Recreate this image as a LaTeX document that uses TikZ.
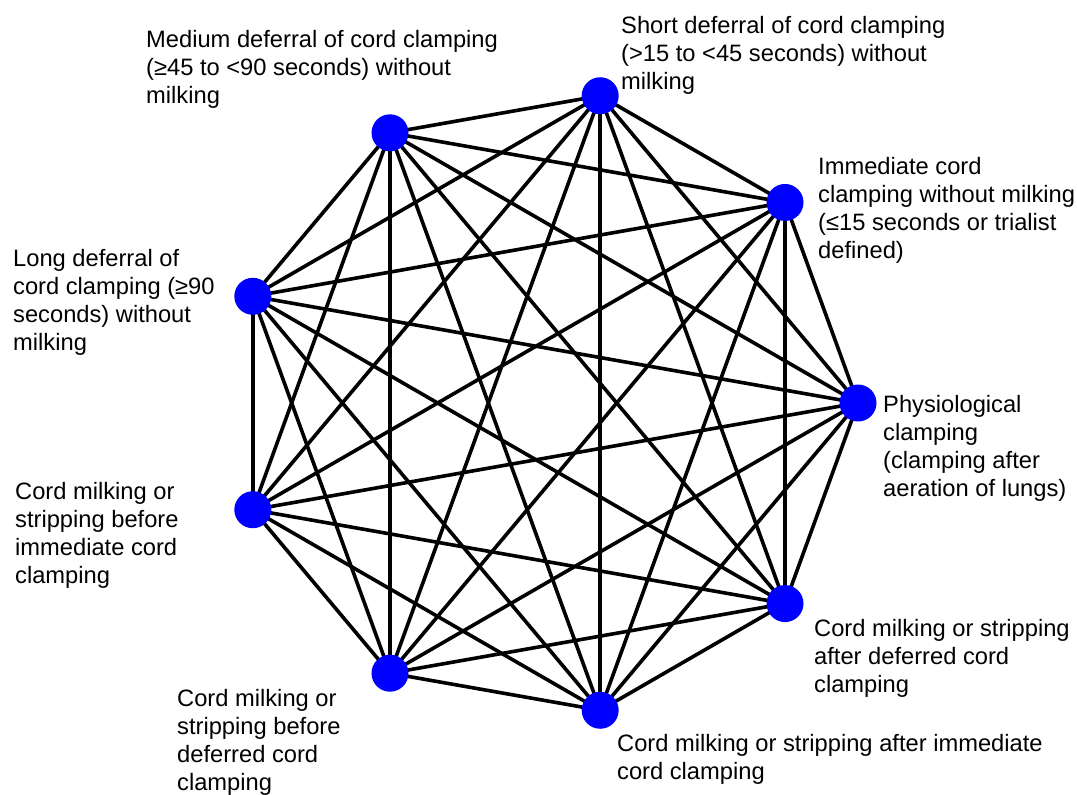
\documentclass[tikz,border=0pt]{standalone}
\usepackage{fontspec}
\setmainfont{Liberation Sans}
\usetikzlibrary{backgrounds}
\begin{document}
\begin{tikzpicture}[x=1pt,y=-1pt,
  dot/.style={circle,fill={rgb,255:red,0;green,0;blue,255},minimum size=37pt,inner sep=0pt},
  edge/.style={line width=3.6pt,black},
  lbl/.style={font=\fontsize{23.7}{28}\selectfont,align=left,inner sep=0pt,anchor=north west,text=black}]
\useasboundingbox (0,0) rectangle (1077,795);
\foreach \k in {0,...,8}{
  \node[dot] (n\k) at ({546+312*cos(40*\k)},{403-312*sin(40*\k)}) {};
}
\begin{pgfonlayer}{background}
\fill[white] (0,0) rectangle (1077,795);
\foreach \i in {0,...,7}{
  \pgfmathtruncatemacro\s{\i+1}
  \foreach \j in {\s,...,8}{
    \draw[edge] (n\i.center) -- (n\j.center);
  }
}
\end{pgfonlayer}
\newcommand{\fl}{\rule{0pt}{18pt}}
\node[lbl] (t2) at (621,15) {\fl Short deferral of cord clamping\\(>15 to <45 seconds) without\\milking};
\node[lbl] (t3) at (146,29) {\fl Medium deferral of cord clamping\\(≥45 to <90 seconds) without\\milking};
\node[lbl] (t1) at (818,156) {\fl Immediate cord\\clamping without milking\\(≤15 seconds or trialist\\defined)};
\node[lbl] (t0) at (883,394) {\fl Physiological\\clamping\\(clamping after\\aeration of lungs)};
\node[lbl] (t4) at (13,248) {\fl Long deferral of\\cord clamping (≥90\\seconds) without\\milking};
\node[lbl] (t5) at (15,481) {\fl Cord milking or\\stripping before\\immediate cord\\clamping};
\node[lbl] (t6) at (177,688) {\fl Cord milking or\\stripping before\\deferred cord\\clamping};
\node[lbl] (t8) at (814,618) {\fl Cord milking or stripping\\after deferred cord\\clamping};
\node[lbl] (t7) at (617,733) {\fl Cord milking or stripping after immediate\\cord clamping};
\end{tikzpicture}
\end{document}
